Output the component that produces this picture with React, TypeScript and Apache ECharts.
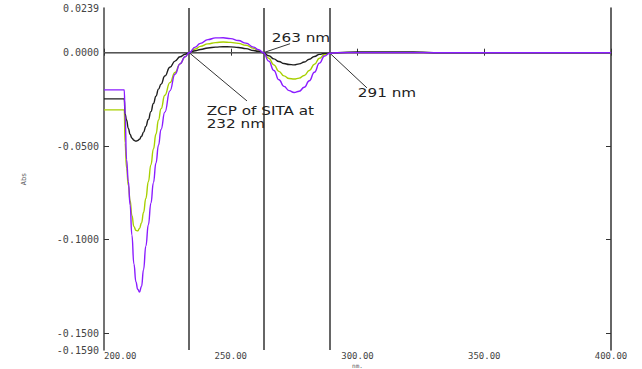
import React, { useEffect, useRef } from "react";
import * as echarts from "echarts";

// wavelength grid (nm)
const wavelengths = [
  200, 208, 208.3, 208.9, 209.6, 210.3, 211, 211.8, 212.6, 213.3, 214, 214.8,
  215.6, 216.5, 217.5, 218.5, 219.5, 220.5, 221.5, 222.5, 224, 226, 228, 230,
  232, 233.6, 236, 238, 241, 244, 247, 250, 253, 256, 259, 261, 262.9, 265,
  267, 269, 271, 273, 275, 277, 279, 281, 283, 285, 287, 289, 292, 300, 310,
  322, 330, 350, 400,
];

const absPurple = [
  -0.0199, -0.0199, -0.033, -0.0572, -0.0688, -0.0814, -0.0975, -0.113, -0.1226,
  -0.1265, -0.128, -0.125, -0.116, -0.1035, -0.092, -0.0805, -0.0695, -0.059,
  -0.0495, -0.041, -0.0318, -0.0204, -0.0115, -0.006, -0.0022, 0.0, 0.003,
  0.005, 0.007, 0.0079, 0.008, 0.0075, 0.0065, 0.0051, 0.003, 0.0016, 0.0,
  -0.0045, -0.0095, -0.0145, -0.018, -0.0203, -0.0213, -0.0206, -0.0185,
  -0.015, -0.0105, -0.0056, -0.0018, -0.0003, 0.0, 0.0, 0.0, 0.0, 0.0, 0.0, 0.0,
];

const absGreen = [
  -0.0306, -0.0306, -0.0482, -0.0617, -0.071, -0.079, -0.087, -0.093, -0.095,
  -0.0953, -0.094, -0.091, -0.0855, -0.078, -0.069, -0.06, -0.0515, -0.0435,
  -0.036, -0.03, -0.0228, -0.016, -0.0106, -0.006, -0.0022, 0.0, 0.002, 0.0034,
  0.0047, 0.0054, 0.0057, 0.0055, 0.005, 0.004, 0.0023, 0.0011, 0.0, -0.003,
  -0.0065, -0.01, -0.0124, -0.0138, -0.0141, -0.0136, -0.0122, -0.0095,
  -0.0062, -0.003, -0.001, -0.0002, 0.0, 0.0, 0.0, 0.0, 0.0, 0.0, 0.0,
];

const absBlack = [
  -0.0247, -0.0247, -0.0326, -0.036, -0.0405, -0.0437, -0.0457, -0.0468,
  -0.0473, -0.047, -0.0463, -0.0447, -0.0425, -0.0395, -0.0357, -0.0315,
  -0.0272, -0.0233, -0.0195, -0.0168, -0.0125, -0.0078, -0.0045, -0.0022,
  -0.0008, 0.0, 0.001, 0.0017, 0.0025, 0.003, 0.0032, 0.0031, 0.0028, 0.0022,
  0.0012, 0.0006, 0.0, -0.0016, -0.0033, -0.0047, -0.0058, -0.0063, -0.0065,
  -0.006, -0.005, -0.0035, -0.002, -0.0009, -0.0003, -0.0001, 0.0, 0.0004,
  0.0004, 0.0004, 0.0, 0.0, 0.0,
];

const yLabelValues = [0.0239, 0, -0.05, -0.1, -0.15, -0.159];
const yTickValues = [0, -0.05, -0.1, -0.15];
const zcpLines = [233.6, 262.9, 288.9];

// annotation texts anchored in data coordinates [nm, abs]
const annotationTexts = ["ZCP of SITA at", "232 nm", "263 nm", "291 nm"];
const annotationAnchors: [number, number][] = [
  [240.5, -0.0309],
  [240.5, -0.038],
  [266.2, 0.0078],
  [300.1, -0.0212],
];
// leader lines [from, to] in data coordinates
const leaderLines: [number, number][][] = [
  [[233.6, 0], [256.4, -0.0258]],
  [[262.9, 0], [273.4, 0.0048]],
  [[288.9, 0], [303.7, -0.0188]],
];

const labelFont = "'DejaVu Sans Mono', monospace";

export default function App() {
  const ref = useRef<HTMLDivElement>(null);

  useEffect(() => {
    const chart = echarts.init(ref.current!, null, { renderer: "svg" });
    const mk = (arr: number[]) => wavelengths.map((w, i) => [w, arr[i]]);
    const lineBase = {
      type: "line" as const,
      showSymbol: false,
      smooth: true,
      smoothMonotone: "x" as const,
      xAxisIndex: 0,
      yAxisIndex: 0,
    };
    chart.setOption({
      animation: false,
      backgroundColor: "#ffffff",
      grid: {
        left: 104,
        top: 8,
        width: 507,
        height: 342,
        containLabel: false,
        outerBoundsMode: "none",
      },
      xAxis: [
        {
          type: "value",
          min: 200,
          max: 400,
          interval: 50,
          position: "bottom",
          name: "nm.",
          nameLocation: "middle",
          nameGap: 12,
          nameMoveOverlap: false,
          nameTextStyle: {
            fontFamily: labelFont,
            fontSize: 6,
            lineHeight: 6,
            color: "#555",
            verticalAlign: "top",
          },
          axisLine: { show: true, lineStyle: { color: "#444", width: 1.5 } },
          axisTick: { show: true, inside: true, length: 4, lineStyle: { color: "#333" } },
          axisLabel: {
            margin: 1,
            fontFamily: labelFont,
            fontSize: 9,
            lineHeight: 10,
            color: "#444",
            alignMinLabel: "left",
            formatter: (v: number) => v.toFixed(2),
          },
          splitLine: { show: false },
        },
        {
          type: "value",
          min: 200,
          max: 400,
          interval: 50,
          position: "top",
          axisLine: { show: true, lineStyle: { color: "#aaa", width: 1.5 } },
          axisTick: { show: true, inside: true, length: 3, lineStyle: { color: "#333" } },
          axisLabel: { show: false },
          splitLine: { show: false },
        },
      ],
      yAxis: [
        {
          type: "value",
          min: -0.159,
          max: 0.0239,
          position: "left",
          name: "Abs",
          nameLocation: "middle",
          nameGap: 77,
          nameMoveOverlap: false,
          nameTextStyle: { fontFamily: labelFont, fontSize: 7, color: "#555" },
          axisLine: { show: true, lineStyle: { color: "#444", width: 1.5 } },
          axisTick: {
            show: true,
            inside: true,
            length: 5,
            customValues: yTickValues,
            lineStyle: { color: "#333" },
          },
          axisLabel: {
            margin: 5,
            fontFamily: labelFont,
            fontSize: 10,
            color: "#444",
            customValues: yLabelValues,
            formatter: (v: number) => v.toFixed(4),
          },
          splitLine: { show: false },
        },
        {
          type: "value",
          min: -0.159,
          max: 0.0239,
          position: "right",
          axisLine: { show: true, lineStyle: { color: "#333", width: 1.5 } },
          axisTick: {
            show: true,
            inside: true,
            length: 5,
            customValues: yTickValues,
            lineStyle: { color: "#333" },
          },
          axisLabel: { show: false },
          splitLine: { show: false },
        },
      ],
      series: [
        {
          ...lineBase,
          name: "green",
          data: mk(absGreen),
          lineStyle: { color: "#a8d000", width: 1.4 },
          itemStyle: { color: "#a8d000" },
          z: 3,
          markLine: {
            silent: true,
            symbol: "none",
            label: { show: false },
            data: [
              ...zcpLines.map((x) => ({
                xAxis: x,
                lineStyle: { color: "#333", width: 1.5, type: "solid" },
              })),
              { yAxis: 0, lineStyle: { color: "#555", width: 1, type: "solid" } },
              ...leaderLines.map((seg) => [
                { coord: seg[0], lineStyle: { color: "#333", width: 1, type: "solid" } },
                { coord: seg[1] },
              ]),
            ],
          },
        },
        {
          ...lineBase,
          name: "black",
          data: mk(absBlack),
          lineStyle: { color: "#1e1e1e", width: 1.4 },
          itemStyle: { color: "#1e1e1e" },
          z: 4,
        },
        {
          ...lineBase,
          name: "purple",
          data: mk(absPurple),
          lineStyle: { color: "#8a1cff", width: 1.4 },
          itemStyle: { color: "#8a1cff" },
          z: 5,
        },
      ],
    });

    const graphics = annotationTexts.map((t, i) => {
      const p = chart.convertToPixel({ gridIndex: 0 }, annotationAnchors[i]) as number[];
      return {
        type: "text",
        x: p[0],
        y: p[1],
        scaleX: 1.27,
        z: 100,
        style: {
          text: t,
          fontFamily: "'DejaVu Sans', sans-serif",
          fontSize: 12,
          fill: "#222",
          align: "left",
          verticalAlign: "middle",
          textAlign: "left",
          textVerticalAlign: "middle",
        },
      };
    });
    chart.setOption({ graphic: graphics });

    return () => chart.dispose();
  }, []);

  return (
    <div
      ref={ref}
      style={{ position: "absolute", left: 0, top: 0, width: 642, height: 369 }}
    />
  );
}
